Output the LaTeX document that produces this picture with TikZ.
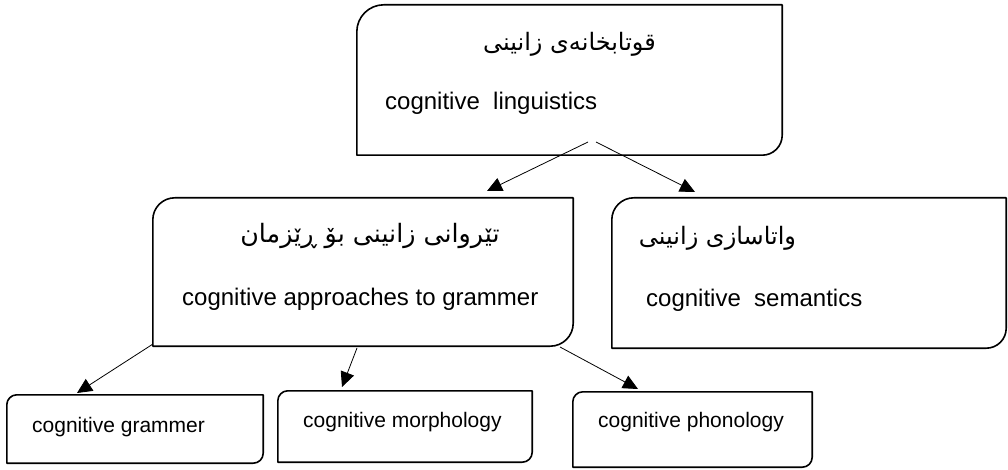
\documentclass[tikz,border=0pt]{standalone}
\usepackage{fontspec}
\setmainfont{Liberation Sans}
\newfontfamily\kurdfont[Script=Arabic]{DejaVu Sans}
\TeXXeTstate=1
\usetikzlibrary{arrows.meta}
\tikzset{
  frame/.style={line width=1.6pt, line join=round},
  area/.style={inner sep=0pt, draw=none},
  arr/.style={line width=0.8pt, -{Triangle[length=15pt,width=14pt]}},
  en/.style={anchor=base west, inner sep=0pt, font=\fontsize{24}{28}\selectfont},
  ensmall/.style={anchor=base west, inner sep=0pt, font=\fontsize{21}{25}\selectfont},
  ku/.style={inner sep=0pt, font=\kurdfont\fontsize{24}{28}\selectfont},
  kubig/.style={inner sep=0pt, font=\kurdfont\fontsize{25.3}{30}\selectfont}
}
\newcommand\snipframe[3]{\draw[frame] (#1.south west) -- ([yshift=-#2]#1.north west) arc[start angle=180,end angle=90,radius=#2] -- (#1.north east) -- ([yshift=#3]#1.south east) arc[start angle=0,end angle=-90,radius=#3] -- cycle;}
\begin{document}
\begin{tikzpicture}[x=1pt,y=-1pt]
\useasboundingbox (0,0) rectangle (1008,470);
% boxes
\node[area, minimum width=425pt, minimum height=150pt] (top) at (569.5,80) {};
\node[area, minimum width=420pt, minimum height=148pt] (mid) at (363,272) {};
\node[area, minimum width=394pt, minimum height=150pt] (sem) at (809,273) {};
\node[area, minimum width=256pt, minimum height=68pt] (gram) at (135,429) {};
\node[area, minimum width=254pt, minimum height=71pt] (morph) at (405,426.5) {};
\node[area, minimum width=239pt, minimum height=75pt] (phon) at (692.5,429.5) {};
\snipframe{top}{27pt}{20pt}
\snipframe{mid}{22pt}{23pt}
\snipframe{sem}{22pt}{20pt}
\snipframe{gram}{10pt}{10pt}
\snipframe{morph}{10pt}{10pt}
\snipframe{phon}{10pt}{10pt}
% texts
\node[ku] (topku) at (569.5,44) {\beginR قوتابخانەی زانینی\endR};
\node[en] (topen) at (385,110) {cognitive\ \ linguistics};
\node[kubig] (midku) at (370,236) {\beginR تێروانی زانینی بۆ ڕێزمان\endR};
\node[en] (miden) at (182,305) {cognitive approaches to grammer};
\node[ku] (semku) at (717.5,238) {\beginR واتاسازی زانینی\endR};
\node[en] (semen) at (646,306) {cognitive\ \ semantics};
\node[ensmall] (gramt) at (32,432) {cognitive grammer};
\node[ensmall] (morpht) at (303,427) {cognitive morphology};
\node[ensmall] (phont) at (598,427) {cognitive phonology};
% connector ends
\coordinate (s1) at (588,142);
\coordinate (t1) at (487,191);
\coordinate (s2) at (596,142);
\coordinate (t2) at (695,192);
\coordinate (s3) at (153,344);
\coordinate (t3) at (77,393);
\coordinate (s4) at (357,348);
\coordinate (t4) at (342,387);
\coordinate (s5) at (560,347);
\coordinate (t5) at (638,389);
\draw[arr] (s1) -- (t1);
\draw[arr] (s2) -- (t2);
\draw[arr] (s3) -- (t3);
\draw[arr] (s4) -- (t4);
\draw[arr] (s5) -- (t5);
\end{tikzpicture}
\end{document}
